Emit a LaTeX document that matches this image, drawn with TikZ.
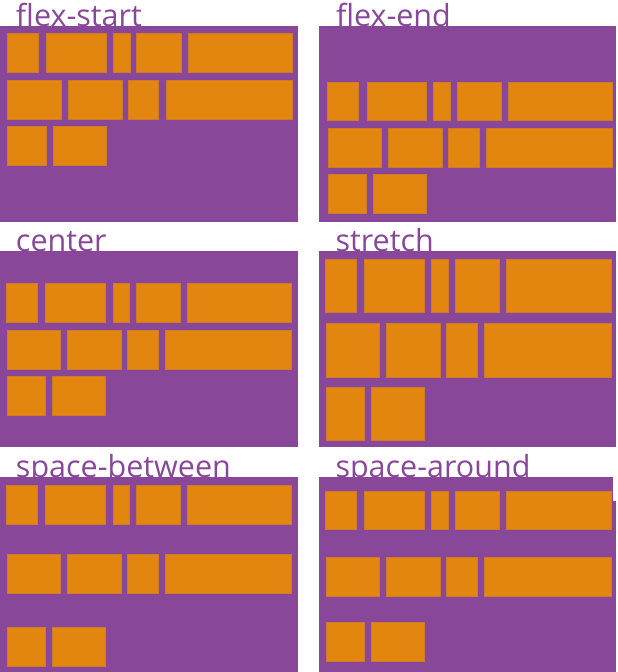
\documentclass[tikz,border=0pt]{standalone}
\usepackage{fontspec}
\newfontfamily\lblfont{Open Sans}
\definecolor{flexpurple}{HTML}{884799}
\definecolor{flexorange}{HTML}{E3860F}
\tikzset{
  panel/.style={fill=flexpurple, draw=none},
  item/.style={fill=flexorange, draw=flexorange!80!flexpurple, line width=0.4pt},
  lbl/.style={text=flexpurple, font=\lblfont\fontsize{30.5}{31}\selectfont, anchor=base west, inner sep=0pt},
}
% \flexrow{top}{bottom}{macro holding x1/x2 list}
\newcommand{\flexrow}[3]{%
  \foreach \xa/\xb in #3 {\draw[item] (\xa,#1) rectangle (\xb,#2);}%
}
\newcommand{\setAone}{7/37.7, 45.7/106, 113/130, 136.3/181, 187.7/292}
\newcommand{\setAtwo}{7.3/61, 68/121.7, 128/158.3, 165.7/292}
\newcommand{\setAthree}{7.3/46, 53/106}
\newcommand{\setDone}{6.3/37.3, 45.3/105.3, 112.7/129.3, 136/180.3, 187/291.3}
\newcommand{\setDtwo}{6.7/60.3, 67.3/121, 127.3/158, 165/291.3}
\newcommand{\setDthree}{6.7/45, 52/105.3}
\newcommand{\setBone}{327.3/358.3, 366.7/426.3, 433.3/450.3, 456.7/501.3, 507.7/612}
\newcommand{\setBtwo}{327.7/381.3, 388.3/442, 448.3/479, 486/612}
\newcommand{\setBthree}{327.7/366, 373/426.3}
\newcommand{\setCone}{325.3/356.3, 364.3/424.3, 431.3/448.3, 454.7/499.3, 505.7/610.7}
\newcommand{\setCtwo}{325.7/379.3, 386.3/440, 446.3/477, 484/610.7}
\newcommand{\setCthree}{325.7/364, 371/424.3}
\begin{document}
\begin{tikzpicture}[x=1pt, y=-1pt]
\useasboundingbox (0,0) rectangle (618,672);
% labels (drawn first: the panels cover their bottoms)
\node[lbl] (lflexstart) at (15.8,26.5) {flex-start};
\node[lbl] (lflexend) at (335.8,26.5) {flex-end};
\node[lbl] (lcenter) at (15.8,251.5) {center};
\node[lbl] (lstretch) at (335.3,251.5) {stretch};
\node[lbl] (lbetween) at (15.8,477.5) {space-between};
\node[lbl] (laround) at (335.3,477.5) {space-around};
% panels
\fill[panel] (0,26) rectangle (297.7,221.7);
\fill[panel] (319,26) rectangle (616,221.7);
\fill[panel] (0,251) rectangle (297.7,446.7);
\fill[panel] (319,251) rectangle (616,446.7);
\fill[panel] (0,477.3) rectangle (297.7,672);
\fill[panel] (319,477.3) rectangle (613.3,672);
\fill[panel] (613,501) rectangle (616,672);
% flex-start
\flexrow{33}{71.7}{\setAone}
\flexrow{80}{118.7}{\setAtwo}
\flexrow{126}{164.7}{\setAthree}
% flex-end
\flexrow{81.7}{120.3}{\setBone}
\flexrow{128.3}{167}{\setBtwo}
\flexrow{174.3}{213}{\setBthree}
% center
\flexrow{283}{321.7}{\setDone}
\flexrow{330}{368.7}{\setDtwo}
\flexrow{376}{414.7}{\setDthree}
% stretch
\flexrow{259}{312.3}{\setCone}
\flexrow{323.3}{376.7}{\setCtwo}
\flexrow{386.7}{440}{\setCthree}
% space-between
\flexrow{485}{523.7}{\setDone}
\flexrow{554}{592.7}{\setDtwo}
\flexrow{627}{665.7}{\setDthree}
% space-around
\flexrow{490.7}{529.3}{\setCone}
\flexrow{557.3}{596}{\setCtwo}
\flexrow{622.3}{661}{\setCthree}
\end{tikzpicture}
\end{document}
